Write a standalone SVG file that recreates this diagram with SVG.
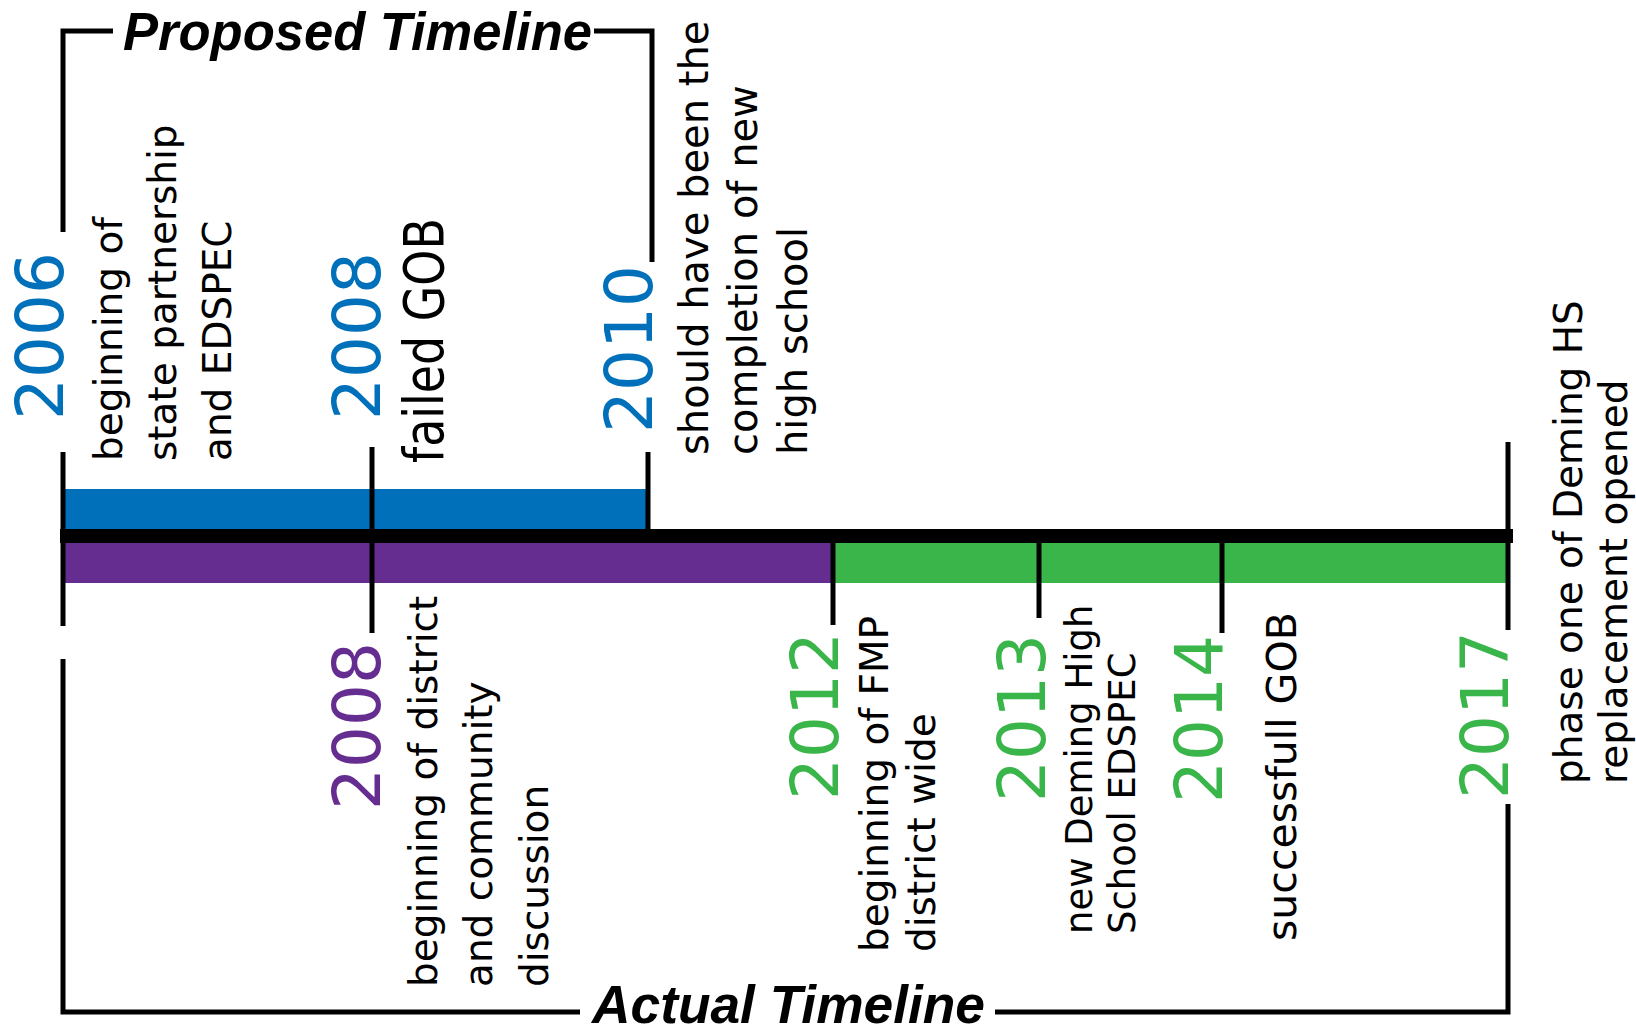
<svg xmlns="http://www.w3.org/2000/svg" width="1636" height="1034" viewBox="0 0 1636 1034">
<style>
  .ln { stroke:#000; stroke-width:5; fill:none; stroke-linecap:butt; }
  .yr { font-family:"DejaVu Sans", sans-serif; font-size:66px; }
  .blue { fill:#0070BA; }
  .purple { fill:#662D91; }
  .green { fill:#39B54A; }
  .ds { font-family:"DejaVu Sans", sans-serif; font-size:39px; fill:#000; }
  .title { font-family:"Liberation Sans", Arial, sans-serif; font-weight:700; font-style:italic; font-size:53px; fill:#000; }
</style>
<rect width="1636" height="1034" fill="#fff"/>

<g id="connectors">
  <rect x="64" y="489" width="582" height="40" fill="#0070BA"/>
  <rect x="64" y="543" width="769" height="40" fill="#662D91"/>
  <rect x="833" y="543" width="676" height="40" fill="#39B54A"/>
  <rect x="60" y="529" width="1453" height="14" fill="#000"/>
  <path class="ln" d="M63,232 V31 H113"/>
  <path class="ln" d="M594,31 H652 V262"/>
  <path class="ln" d="M63,659 V1012 H580"/>
  <path class="ln" d="M995,1012 H1508 V804"/>
</g>

<g id="title-proposed">
  <text class="title" x="123" y="50" textLength="469" lengthAdjust="spacingAndGlyphs">Proposed Timeline</text>
</g>
<g id="title-actual">
  <text class="title" x="592" y="1023" textLength="393" lengthAdjust="spacingAndGlyphs">Actual Timeline</text>
</g>

<g id="event-2006">
  <line class="ln" x1="63" y1="452" x2="63" y2="626"/>
  <text class="yr blue" transform="translate(63,420) rotate(-90)">2006</text>
  <text class="ds" transform="translate(122,461) rotate(-90)">beginning of</text>
  <text class="ds" transform="translate(176,461) rotate(-90)">state partnership</text>
  <text class="ds" transform="translate(231,461) rotate(-90)">and EDSPEC</text>
</g>

<g id="event-2008-proposed">
  <line class="ln" x1="372" y1="447" x2="372" y2="543"/>
  <text class="yr blue" transform="translate(380,420) rotate(-90)">2008</text>
  <text class="ds" style="font-size:55px" transform="translate(443,463) rotate(-90)" textLength="245" lengthAdjust="spacingAndGlyphs">failed GOB</text>
</g>

<g id="event-2010">
  <line class="ln" x1="648" y1="452" x2="648" y2="531"/>
  <text class="yr blue" transform="translate(652,433) rotate(-90)">2010</text>
  <text class="ds" style="font-size:40px" transform="translate(708,455) rotate(-90)">should have been the</text>
  <text class="ds" style="font-size:40px" transform="translate(757,455) rotate(-90)">completion of new</text>
  <text class="ds" style="font-size:40px" transform="translate(807,455) rotate(-90)">high school</text>
</g>

<g id="event-2008-actual">
  <line class="ln" x1="372" y1="541" x2="372" y2="633"/>
  <text class="yr purple" transform="translate(380,810) rotate(-90)">2008</text>
  <text class="ds" transform="translate(437,987) rotate(-90)">beginning of district</text>
  <text class="ds" transform="translate(492,987) rotate(-90)">and community</text>
  <text class="ds" transform="translate(548,987) rotate(-90)">discussion</text>
</g>

<g id="event-2012">
  <line class="ln" x1="833" y1="541" x2="833" y2="625"/>
  <text class="yr green" transform="translate(838,800) rotate(-90)">2012</text>
  <text class="ds" transform="translate(888,952) rotate(-90)">beginning of FMP</text>
  <text class="ds" transform="translate(935,952) rotate(-90)">district wide</text>
</g>

<g id="event-2013">
  <line class="ln" x1="1039" y1="541" x2="1039" y2="618"/>
  <text class="yr green" transform="translate(1045,802) rotate(-90)">2013</text>
  <text class="ds" style="font-size:37px" transform="translate(1092,934) rotate(-90)">new Deming High</text>
  <text class="ds" style="font-size:37px" transform="translate(1135,934) rotate(-90)">School EDSPEC</text>
</g>

<g id="event-2014">
  <line class="ln" x1="1222" y1="541" x2="1222" y2="633"/>
  <text class="yr green" transform="translate(1222,803) rotate(-90)">2014</text>
  <text class="ds" style="font-size:41px" transform="translate(1296,941) rotate(-90)">successfull GOB</text>
</g>

<g id="event-2017">
  <line class="ln" x1="1508" y1="442" x2="1508" y2="630"/>
  <text class="yr green" transform="translate(1508,799) rotate(-90)">2017</text>
  <text class="ds" transform="translate(1582,784) rotate(-90)">phase one of Deming HS</text>
  <text class="ds" transform="translate(1627,784) rotate(-90)">replacement opened</text>
</g>
</svg>
